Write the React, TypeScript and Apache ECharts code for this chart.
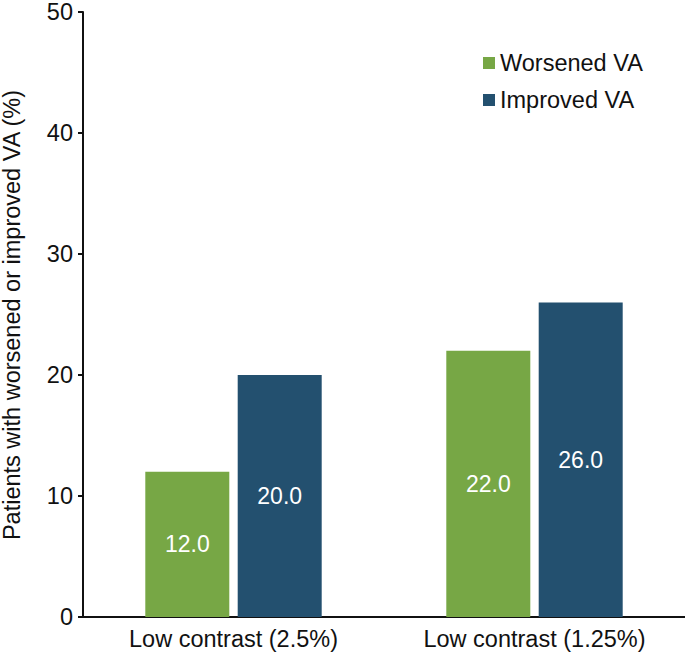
import React, { useEffect, useRef } from "react";
import * as echarts from "echarts";

const categories = ["Low contrast (2.5%)", "Low contrast (1.25%)"];
const worsenedVA = [12.0, 22.0];
const improvedVA = [20.0, 26.0];
const seriesNames = ["Worsened VA", "Improved VA"];
const yAxisTitle = "Patients with worsened or improved VA (%)";

const FONT = "'Liberation Sans', Arial, Helvetica, sans-serif";

export default function App() {
  const ref = useRef<HTMLDivElement>(null);
  useEffect(() => {
    if (!ref.current) return;
    const chart = echarts.init(ref.current, null, { renderer: "svg" });
    const labelCfg = {
      show: true,
      position: "inside",
      color: "#ffffff",
      fontSize: 23,
      fontFamily: FONT,
      formatter: (p: any) => Number(p.value).toFixed(1),
    };
    chart.setOption({
      animation: false,
      backgroundColor: "#ffffff",
      textStyle: { fontFamily: FONT },
      grid: { left: 83, right: 0, top: 11, bottom: 38, containLabel: false },
      legend: {
        orient: "vertical",
        left: 478,
        top: 46,
        padding: 5,
        itemWidth: 12,
        itemHeight: 12,
        itemGap: 13,
        icon: "rect",
        textStyle: { fontSize: 23.5, color: "#111", fontFamily: FONT },
        data: seriesNames,
      },
      graphic: [
        {
          type: "text",
          x: 12,
          y: 315,
          rotation: Math.PI / 2,
          style: {
            text: yAxisTitle,
            fontSize: 23.5,
            fontFamily: FONT,
            fill: "#111",
            textAlign: "center",
            textVerticalAlign: "middle",
          },
        },
      ],
      xAxis: {
        type: "category",
        data: categories,
        axisLine: { lineStyle: { color: "#111", width: 2 } },
        axisTick: { show: false },
        axisLabel: { fontSize: 23.5, color: "#111", margin: 10, fontFamily: FONT },
      },
      yAxis: {
        type: "value",
        min: 0,
        max: 50,
        interval: 10,
        splitLine: { show: false },
        axisLine: { show: true, lineStyle: { color: "#111", width: 2 } },
        axisTick: { show: true, length: 5, lineStyle: { color: "#111", width: 2 } },
        axisLabel: { fontSize: 23.5, color: "#111", margin: 10, fontFamily: FONT },
      },
      series: [
        {
          name: seriesNames[0],
          type: "bar",
          data: worsenedVA,
          barWidth: 84,
          barGap: "10%",
          itemStyle: { color: "#77A745" },
          label: labelCfg,
        },
        {
          name: seriesNames[1],
          type: "bar",
          data: improvedVA,
          barWidth: 84,
          barGap: "10%",
          itemStyle: { color: "#23506F" },
          label: labelCfg,
        },
      ],
    });
    return () => chart.dispose();
  }, []);
  return <div ref={ref} style={{ width: 685, height: 655, position: "absolute", left: 0, top: 0 }} />;
}
